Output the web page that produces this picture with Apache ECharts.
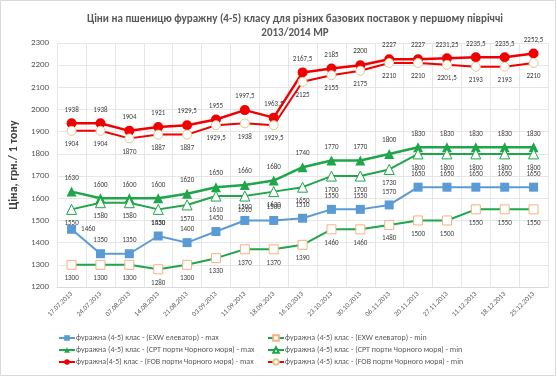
<!DOCTYPE html>
<html>
<head>
<meta charset="utf-8">
<script src="https://cdn.jsdelivr.net/npm/echarts@6/dist/echarts.min.js"></script>
<style>
  html, body { margin: 0; padding: 0; background: #fff; }
  #chart { width: 557px; height: 377px; }
</style>
</head>
<body>
<div id="chart"></div>
<script>
const dates = ['17.07.2013', '24.07.2013', '07.08.2013', '14.08.2013', '21.08.2013', '03.09.2013',
    '11.09.2013', '18.09.2013', '16.10.2013', '23.10.2013', '30.10.2013', '06.11.2013',
    '20.11.2013', '27.11.2013', '11.12.2013', '18.12.2013', '25.12.2013'];

const exwMax = [1460, 1350, 1350, 1430, 1400, 1450, 1500, 1500, 1510, 1550, 1550, 1570, 1650, 1650, 1650, 1650, 1650];
const exwMin = [1300, 1300, 1300, 1280, 1300, 1330, 1370, 1370, 1390, 1460, 1460, 1480, 1500, 1500, 1550, 1550, 1550];
const cptMax = [1630, 1600, 1600, 1600, 1620, 1650, 1660, 1680, 1740, 1770, 1770, 1800, 1830, 1830, 1830, 1830, 1830];
const cptMin = [1550, 1580, 1580, 1550, 1570, 1610, 1610, 1630, 1650, 1700, 1700, 1730, 1800, 1800, 1800, 1800, 1800];
const fobMax = [1938, 1938, 1904, 1921, 1929.5, 1955, 1997.5, 1963.5, 2167.5, 2185, 2200, 2227, 2227, 2231.25, 2235.5, 2235.5, 2252.5];
const fobMin = [1904, 1904, 1870, 1887, 1887, 1929.5, 1938, 1929.5, 2125, 2155, 2175, 2210, 2210, 2201.5, 2193, 2193, 2210];

const names = [
    'фуражна (4-5) клас - (EXW елеватор) - max',
    'фуражна (4-5) клас - (EXW елеватор) - min',
    'фуражна (4-5) клас - (CPT порти Чорного моря) - max',
    'фуражна (4-5) клас - (CPT порти Чорного моря) - min',
    'фуражна(4-5) клас - (FOB порти Чорного моря) - max',
    'фуражна (4-5) клас - (FOB порти Чорного моря) - min'
];

const font = 'Calibri, Carlito, "Open Sans", sans-serif';

function lbl(pos) {
    return {
        show: true,
        position: pos,
        distance: 5,
        fontSize: 7,
        color: '#404040',
        fontFamily: font,
        formatter: p => String(p.value).replace('.', ',')
    };
}

const chart = echarts.init(document.getElementById('chart'));
const option = {
    animation: false,
    textStyle: { fontFamily: font },
    graphic: [{
        type: 'rect',
        shape: { x: 0.5, y: 0.5, width: 555, height: 375 },
        style: { fill: 'none', stroke: '#d9d9d9', lineWidth: 1 },
        silent: true
    }],
    title: {
        text: 'Ціни на пшеницю фуражну (4-5) класу для різних базових поставок у першому півріччі\n2013/2014 МР',
        left: 290,
        textAlign: 'center',
        top: 7,
        textStyle: { fontSize: 11, fontWeight: 'bold', color: '#595959', lineHeight: 14, fontFamily: font }
    },
    grid: { left: 53, right: 9, top: 43, bottom: 90 },
    legend: [{
        orient: 'vertical',
        left: 53,
        top: 329,
        itemGap: 4,
        itemWidth: 16,
        itemHeight: 7,
        textStyle: { fontSize: 8, color: '#595959', padding: [0, 0, 0, -4] },
        data: [names[0], names[2], names[4]]
    }, {
        orient: 'vertical',
        left: 262,
        top: 329,
        itemGap: 4,
        itemWidth: 16,
        itemHeight: 7,
        textStyle: { fontSize: 8, color: '#595959', padding: [0, 0, 0, -4] },
        data: [names[1], names[3], names[5]]
    }],
    xAxis: {
        type: 'category',
        data: dates,
        boundaryGap: true,
        axisLine: { lineStyle: { color: '#d9d9d9' } },
        axisTick: { show: false },
        splitLine: { show: true, lineStyle: { color: '#e6e6e6' } },
        axisLabel: { rotate: 45, fontSize: 7, color: '#595959', margin: 6, interval: 0 }
    },
    yAxis: {
        type: 'value',
        min: 1200,
        max: 2300,
        interval: 100,
        name: 'Ціна, грн./ 1 тону',
        nameLocation: 'middle',
        nameGap: 31,
        nameTextStyle: { fontSize: 12, fontWeight: 'bold', color: '#404040' },
        axisLine: { show: false },
        axisTick: { show: false },
        splitLine: { lineStyle: { color: '#e6e6e6' } },
        axisLabel: { fontSize: 9, color: '#595959', margin: 8, formatter: v => String(v) }
    },
    series: [
        {
            name: names[0], type: 'line',
            // first label sits to the right of its point
            data: exwMax.map((v, i) => i === 0 ? { value: v, label: { position: 'right' } } : v),
            symbol: 'rect', symbolSize: 9,
            lineStyle: { color: '#5B9BD5', width: 2 },
            itemStyle: { color: '#5B9BD5' },
            label: lbl('top'),
            z: 3
        },
        {
            name: names[1], type: 'line', data: exwMin,
            symbol: 'rect', symbolSize: 9,
            lineStyle: { color: '#1FA64A', width: 2 },
            itemStyle: { color: '#fff', borderColor: '#F4B183', borderWidth: 1 },
            label: lbl('bottom')
        },
        {
            name: names[2], type: 'line', data: cptMax,
            symbol: 'triangle', symbolSize: 10,
            lineStyle: { color: '#1FA64A', width: 2.5 },
            itemStyle: { color: '#1FA64A' },
            label: lbl('top')
        },
        {
            name: names[3], type: 'line', data: cptMin,
            symbol: 'triangle', symbolSize: 10,
            lineStyle: { color: '#1FA64A', width: 2 },
            itemStyle: { color: '#fff', borderColor: '#1FA64A', borderWidth: 1 },
            label: lbl('bottom')
        },
        {
            name: names[4], type: 'line', data: fobMax,
            symbol: 'circle', symbolSize: 10,
            lineStyle: { color: '#F00000', width: 2.5 },
            itemStyle: { color: '#F00000' },
            label: lbl('top')
        },
        {
            name: names[5], type: 'line', data: fobMin,
            symbol: 'circle', symbolSize: 9,
            lineStyle: { color: '#F00000', width: 2 },
            itemStyle: { color: '#fff', borderColor: '#D9C98A', borderWidth: 1 },
            label: lbl('bottom')
        }
    ]
};
chart.setOption(option);
</script>
</body>
</html>
